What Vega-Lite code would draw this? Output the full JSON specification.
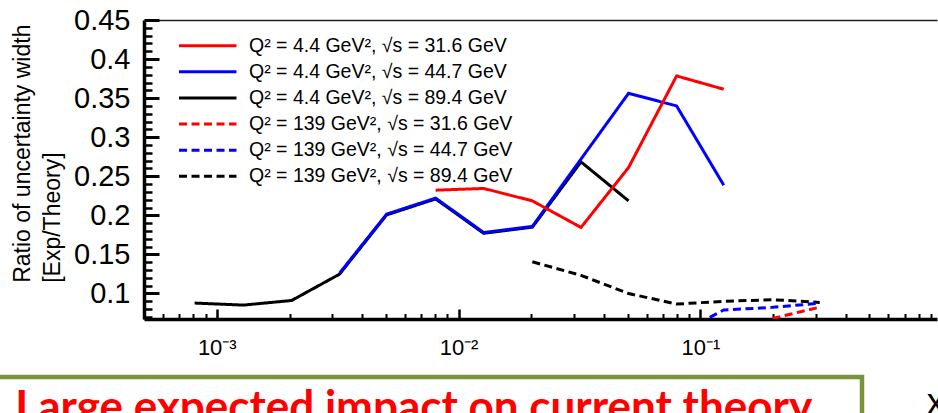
{
  "$schema": "https://vega.github.io/schema/vega-lite/v6.json",
  "background": "white",
  "padding": {"left": -20, "top": 6, "right": 0, "bottom": 0},
  "spacing": 16,
  "resolve": {"scale": {"color": "independent", "strokeDash": "independent"}},
  "config": {"font": "Liberation Sans", "axis": {"grid": false}, "view": {"stroke": null}},
  "datasets": {
    "curves": [
      {"s": "Q² = 4.4 GeV², √s = 89.4 GeV", "x": 0.00081, "r": 0.0877},
      {"s": "Q² = 4.4 GeV², √s = 89.4 GeV", "x": 0.00129, "r": 0.0851},
      {"s": "Q² = 4.4 GeV², √s = 89.4 GeV", "x": 0.00204, "r": 0.091},
      {"s": "Q² = 4.4 GeV², √s = 89.4 GeV", "x": 0.00322, "r": 0.1247},
      {"s": "Q² = 4.4 GeV², √s = 89.4 GeV", "x": 0.00504, "r": 0.2005},
      {"s": "Q² = 4.4 GeV², √s = 89.4 GeV", "x": 0.00804, "r": 0.221},
      {"s": "Q² = 4.4 GeV², √s = 89.4 GeV", "x": 0.0127, "r": 0.177},
      {"s": "Q² = 4.4 GeV², √s = 89.4 GeV", "x": 0.0202, "r": 0.1848},
      {"s": "Q² = 4.4 GeV², √s = 89.4 GeV", "x": 0.0321, "r": 0.2684},
      {"s": "Q² = 4.4 GeV², √s = 89.4 GeV", "x": 0.0505, "r": 0.2185},
      {"s": "Q² = 4.4 GeV², √s = 44.7 GeV", "x": 0.00322, "r": 0.126},
      {"s": "Q² = 4.4 GeV², √s = 44.7 GeV", "x": 0.00504, "r": 0.2015},
      {"s": "Q² = 4.4 GeV², √s = 44.7 GeV", "x": 0.00804, "r": 0.222},
      {"s": "Q² = 4.4 GeV², √s = 44.7 GeV", "x": 0.0127, "r": 0.178},
      {"s": "Q² = 4.4 GeV², √s = 44.7 GeV", "x": 0.0202, "r": 0.1858},
      {"s": "Q² = 4.4 GeV², √s = 44.7 GeV", "x": 0.0321, "r": 0.272},
      {"s": "Q² = 4.4 GeV², √s = 44.7 GeV", "x": 0.0505, "r": 0.3562},
      {"s": "Q² = 4.4 GeV², √s = 44.7 GeV", "x": 0.0798, "r": 0.34},
      {"s": "Q² = 4.4 GeV², √s = 44.7 GeV", "x": 0.125, "r": 0.2386},
      {"s": "Q² = 4.4 GeV², √s = 31.6 GeV", "x": 0.00804, "r": 0.2322},
      {"s": "Q² = 4.4 GeV², √s = 31.6 GeV", "x": 0.0127, "r": 0.2344},
      {"s": "Q² = 4.4 GeV², √s = 31.6 GeV", "x": 0.0202, "r": 0.2185},
      {"s": "Q² = 4.4 GeV², √s = 31.6 GeV", "x": 0.0321, "r": 0.1845},
      {"s": "Q² = 4.4 GeV², √s = 31.6 GeV", "x": 0.0505, "r": 0.2612},
      {"s": "Q² = 4.4 GeV², √s = 31.6 GeV", "x": 0.0798, "r": 0.3784},
      {"s": "Q² = 4.4 GeV², √s = 31.6 GeV", "x": 0.125, "r": 0.3614},
      {"s": "Q² = 139 GeV², √s = 89.4 GeV", "x": 0.0202, "r": 0.1405},
      {"s": "Q² = 139 GeV², √s = 89.4 GeV", "x": 0.0321, "r": 0.1232},
      {"s": "Q² = 139 GeV², √s = 89.4 GeV", "x": 0.0505, "r": 0.0999},
      {"s": "Q² = 139 GeV², √s = 89.4 GeV", "x": 0.0798, "r": 0.0864},
      {"s": "Q² = 139 GeV², √s = 89.4 GeV", "x": 0.125, "r": 0.09},
      {"s": "Q² = 139 GeV², √s = 89.4 GeV", "x": 0.199, "r": 0.092},
      {"s": "Q² = 139 GeV², √s = 89.4 GeV", "x": 0.312, "r": 0.0885},
      {"s": "Q² = 139 GeV², √s = 44.7 GeV", "x": 0.0798, "r": 0.047},
      {"s": "Q² = 139 GeV², √s = 44.7 GeV", "x": 0.125, "r": 0.0788},
      {"s": "Q² = 139 GeV², √s = 44.7 GeV", "x": 0.199, "r": 0.0822},
      {"s": "Q² = 139 GeV², √s = 44.7 GeV", "x": 0.312, "r": 0.0875},
      {"s": "Q² = 139 GeV², √s = 31.6 GeV", "x": 0.199, "r": 0.068},
      {"s": "Q² = 139 GeV², √s = 31.6 GeV", "x": 0.312, "r": 0.0825}
    ]
  },
  "vconcat": [
    {
      "spacing": 0,
      "resolve": {"scale": {"color": "independent", "strokeDash": "independent"}},
      "hconcat": [
        {
          "width": 28,
          "height": 1,
          "data": {"values": []},
          "mark": "point"
        },
        {
          "width": 793,
          "height": 299,
          "data": {"name": "curves"},
          "resolve": {"axis": {"x": "independent", "y": "independent"}},
          "layer": [
            {
              "mark": {"type": "line", "strokeWidth": 3, "clip": true},
              "encoding": {
                "x": {
                  "field": "x", "type": "quantitative",
                  "scale": {"type": "log", "domain": [0.0005, 0.953], "nice": false},
                  "axis": {
                    "orient": "bottom", "values": [0.001, 0.01, 0.1],
                    "labelExpr": "datum.value < 0.005 ? '10⁻³' : datum.value < 0.05 ? '10⁻²' : '10⁻¹'",
                    "ticks": false, "domain": true, "domainColor": "black", "domainWidth": 3.5,
                    "labelFontSize": 22, "labelColor": "black", "labelPadding": 18, "labelFlush": false,
                    "title": null
                  }
                },
                "y": {
                  "field": "r", "type": "quantitative",
                  "scale": {"domain": [0.0673, 0.45], "nice": false, "zero": false},
                  "axis": {
                    "orient": "left", "values": [0.1, 0.15, 0.2, 0.25, 0.3, 0.35, 0.4, 0.45], "format": "~g",
                    "ticks": false, "domain": true, "domainColor": "black", "domainWidth": 3.5,
                    "labelFontSize": 29, "labelColor": "black", "labelPadding": 14, "labelFlush": false,
                    "title": "Ratio of uncertainty width",
                    "titleFontSize": 23, "titleFontWeight": "normal", "titleColor": "black",
                    "titleAngle": 270, "titleAlign": "left", "titleBaseline": "alphabetic",
                    "titleX": -114.5, "titleY": 262.3
                  }
                },
                "color": {
                  "field": "s", "type": "nominal",
                  "scale": {
                    "domain": ["Q² = 4.4 GeV², √s = 31.6 GeV", "Q² = 4.4 GeV², √s = 44.7 GeV", "Q² = 4.4 GeV², √s = 89.4 GeV", "Q² = 139 GeV², √s = 31.6 GeV", "Q² = 139 GeV², √s = 44.7 GeV", "Q² = 139 GeV², √s = 89.4 GeV"],
                    "range": ["#ff0000", "#0000ff", "#000000", "#ff0000", "#0000ff", "#000000"]
                  },
                  "legend": {
                    "title": null, "orient": "none", "legendX": 54, "legendY": 16,
                    "symbolType": "M-5,0H5", "symbolSize": 132, "symbolStrokeWidth": 3,
                    "labelFontSize": 19.5, "labelColor": "black", "labelLimit": 400, "labelOffset": 31.5,
                    "rowPadding": 5.1, "padding": 0
                  }
                },
                "strokeDash": {
                  "field": "s", "type": "nominal",
                  "scale": {
                    "domain": ["Q² = 4.4 GeV², √s = 31.6 GeV", "Q² = 4.4 GeV², √s = 44.7 GeV", "Q² = 4.4 GeV², √s = 89.4 GeV", "Q² = 139 GeV², √s = 31.6 GeV", "Q² = 139 GeV², √s = 44.7 GeV", "Q² = 139 GeV², √s = 89.4 GeV"],
                    "range": [[1, 0], [1, 0], [1, 0], [8, 4.5], [8, 4.5], [8, 4.5]]
                  },
                  "legend": {
                    "title": null, "orient": "none", "legendX": 54, "legendY": 16,
                    "symbolType": "M-5,0H5", "symbolSize": 132, "symbolStrokeWidth": 3,
                    "labelFontSize": 19.5, "labelColor": "black", "labelLimit": 400, "labelOffset": 31.5,
                    "rowPadding": 5.1, "padding": 0
                  }
                }
              }
            },
            {
              "mark": {"type": "line", "opacity": 0},
              "encoding": {
                "x": {"field": "x", "type": "quantitative",
                  "axis": {"orient": "bottom", "values": [0.001, 0.01, 0.1], "offset": -10, "tickSize": 10, "tickWidth": 2.5, "tickColor": "black", "labels": false, "domain": false, "title": null}},
                "y": {"field": "r", "type": "quantitative",
                  "axis": {"orient": "left", "values": [0.1, 0.15, 0.2, 0.25, 0.3, 0.35, 0.4, 0.45], "offset": -15, "tickSize": 15, "tickWidth": 3, "tickColor": "black", "labels": false, "domain": false, "title": null}}
              }
            },
            {
              "mark": {"type": "line", "opacity": 0},
              "encoding": {
                "x": {"field": "x", "type": "quantitative",
                  "axis": {"orient": "bottom", "values": [0.0005, 0.0006, 0.0007, 0.0008, 0.0009, 0.002, 0.003, 0.004, 0.005, 0.006, 0.007, 0.008, 0.009, 0.02, 0.03, 0.04, 0.05, 0.06, 0.07, 0.08, 0.09, 0.2, 0.3, 0.4, 0.5, 0.6, 0.7, 0.8, 0.9], "offset": -5.5, "tickSize": 5.5, "tickWidth": 2, "tickColor": "black", "labels": false, "domain": false, "title": null}},
                "y": {"field": "r", "type": "quantitative",
                  "axis": {"orient": "left", "values": [0.07, 0.08, 0.09, 0.11, 0.12, 0.13, 0.14, 0.16, 0.17, 0.18, 0.19, 0.21, 0.22, 0.23, 0.24, 0.26, 0.27, 0.28, 0.29, 0.31, 0.32, 0.33, 0.34, 0.36, 0.37, 0.38, 0.39, 0.41, 0.42, 0.43, 0.44], "offset": -8, "tickSize": 8, "tickWidth": 2.5, "tickColor": "black", "labels": false, "domain": false, "title": null}}
              }
            },
            {
              "mark": {"type": "line", "opacity": 0},
              "encoding": {
                "x": {"field": "x", "type": "quantitative",
                  "axis": {"orient": "top", "ticks": false, "labels": false, "domain": true, "domainColor": "#222222", "domainWidth": 1.3, "title": null}},
                "y": {"field": "r", "type": "quantitative",
                  "axis": {"orient": "left", "ticks": false, "labels": false, "domain": false,
                    "title": "[Exp/Theory]", "titleFontSize": 23, "titleFontWeight": "normal", "titleColor": "black",
                    "titleAngle": 270, "titleAlign": "left", "titleBaseline": "alphabetic",
                    "titleX": -85, "titleY": 262.3}}
              }
            }
          ]
        }
      ]
    },
    {
      "spacing": 60.75,
      "hconcat": [
        {
          "width": 879,
          "height": 40,
          "view": {"stroke": "#77933c", "strokeWidth": 4.5, "strokeDash": [919, 919]},
          "data": {"values": [{"note": "Large expected impact on current theory"}]},
          "mark": {"type": "text", "font": "Lato", "fontWeight": "bold", "fontSize": 44, "color": "#ff0000", "baseline": "alphabetic", "dx": -8.75, "dy": 25},
          "encoding": {"text": {"field": "note"}}
        },
        {
          "width": 20,
          "height": 40,
          "data": {"values": [{"axisName": "x"}]},
          "mark": {"type": "text", "fontSize": 36, "color": "black", "baseline": "alphabetic", "dy": 16.5},
          "encoding": {"text": {"field": "axisName"}}
        }
      ]
    }
  ]
}
